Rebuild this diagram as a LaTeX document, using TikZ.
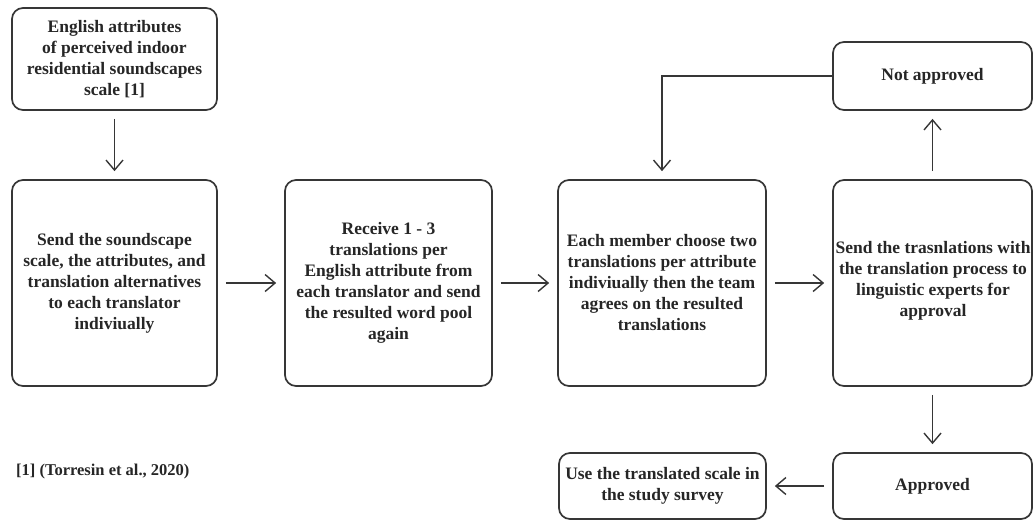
\documentclass[tikz,border=0pt]{standalone}
\usepackage{fontspec}
\setmainfont{Liberation Serif}
\usetikzlibrary{arrows.meta}
\definecolor{ink}{HTML}{262626}
\definecolor{edge}{HTML}{363636}
\tikzset{
  boxfont/.style={font=\bfseries\fontsize{17.5}{21}\selectfont},
  stepbox/.style={draw=edge, line width=1.7pt, rounded corners=11pt,
    align=center, text=ink, inner sep=0pt, boxfont},
  flow/.style={draw=edge, line width=1.4pt,
    -{Straight Barb[length=10pt,width=17pt,line width=1.4pt]},
    shorten >=8pt, shorten <=8pt},
}
\begin{document}
\begin{tikzpicture}[x=1pt,y=-1pt]
\useasboundingbox (0,0) rectangle (1033,520);

% boxes, placed by their centres
\node[stepbox, minimum width=205pt, minimum height=102pt] (src) at (114.5,59)
  {English attributes\\of perceived indoor\\residential soundscapes\\scale [1]};
\node[stepbox, minimum width=205pt, minimum height=206pt] (send) at (114.5,283)
  {Send the soundscape\\scale, the attributes, and\\translation alternatives\\to each translator\\indiviually};
\node[stepbox, minimum width=207pt, minimum height=206pt] (recv) at (388.5,283)
  {Receive 1 - 3\\translations per\\English attribute from\\each translator and send\\the resulted word pool\\again};
\node[stepbox, minimum width=208pt, minimum height=206pt] (team) at (662,283)
  {Each member choose two\\translations per attribute\\indiviually then the team\\agrees on the resulted\\translations};
\node[stepbox, minimum width=199pt, minimum height=206pt] (expert) at (932.5,283) {};
\node[align=center, text=ink, inner sep=0pt, boxfont] (experttxt) at (933,281)
  {Send the trasnlations with\\the translation process to\\linguistic experts for\\approval};
\node[stepbox, minimum width=199pt, minimum height=68pt] (notok) at (932.5,76)
  {Not approved};
\node[stepbox, minimum width=199pt, minimum height=66pt] (ok) at (932.5,486)
  {Approved};
\node[stepbox, minimum width=207pt, minimum height=66pt] (use) at (662.5,486)
  {Use the translated scale in\\the study survey};

% reference note
\node[anchor=west, text=ink, inner sep=0pt,
  font=\bfseries\fontsize{16.5}{20}\selectfont] (note) at (16,472)
  {[1] (Torresin et al., 2020)};

% connectors
\draw[flow] (src) -- (send);
\draw[flow] (send) -- (recv);
\draw[flow] (recv) -- (team);
\draw[flow] (team) -- (expert);
\draw[flow] (expert.north) -- (notok.south);
\draw[flow] (expert.south) -- (ok.north);
\draw[flow] (ok) -- (use);
\draw[flow, shorten <=0pt] (notok.west) -| (team.north);
\end{tikzpicture}
\end{document}
